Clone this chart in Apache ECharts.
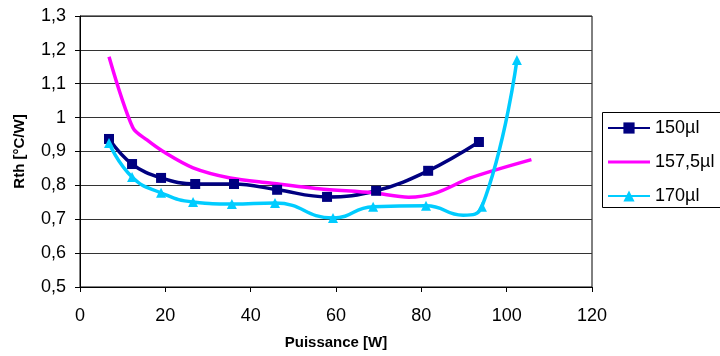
<!DOCTYPE html>
<html>
<head>
<meta charset="utf-8">
<script src="https://cdn.jsdelivr.net/npm/echarts@6/dist/echarts.min.js"></script>
<style>
html, body { margin: 0; padding: 0; background: #fff; }
#chart { width: 720px; height: 356px; }
</style>
</head>
<body>
<div id="chart"></div>
<script>
// points: [Puissance W, Rth °C/W]
var serie150 = [
	[6.8, 0.937], [12.2, 0.863], [19, 0.822], [27, 0.804], [36.1, 0.804],
	[46.2, 0.787], [57.9, 0.766], [69.4, 0.784], [81.6, 0.843], [93.5, 0.928]
];
var serie157 = [
	[6.8, 1.18], [12.4, 0.97], [15.7, 0.934], [19.5, 0.9], [26.5, 0.852],
	[35.2, 0.822], [44.5, 0.807], [56, 0.79], [68.7, 0.778], [77, 0.765],
	[83.5, 0.778], [91.5, 0.822], [105.8, 0.876]
];
var serie170 = [
	[6.8, 0.925], [12.2, 0.825], [19, 0.778], [26.5, 0.751], [35.6, 0.745],
	[45.7, 0.748], [59.3, 0.704], [68.7, 0.737], [81.1, 0.74], [94.2, 0.737],
	[102.4, 1.17]
];
// dip of the 170µl curve before its last rise (no marker there in the picture)
var dip170 = [89.8, 0.712];
var seriesNames = ['150µl', '157,5µl', '170µl'];
var seriesColors = ['#000080', '#ff00ff', '#00ccff'];

var font = 'Liberation Sans, Arial, sans-serif';

var data170 = serie170.slice(0, 9)
	.concat([{ value: dip170, symbol: 'none' }])
	.concat(serie170.slice(9));

var option = {
	animation: false,
	textStyle: { fontFamily: font, color: '#000' },
	grid: {
		left: 80, top: 16, width: 512, height: 271,
		show: true, borderColor: '#000', borderWidth: 1
	},
	graphic: [{
		type: 'rect',
		shape: { x: 602.5, y: 112.5, width: 140, height: 95 },
		style: { fill: 'none', stroke: '#000', lineWidth: 1 }
	}],
	legend: {
		orient: 'vertical',
		left: 602, top: 112,
		padding: [7, 6, 6, 5],
		itemGap: 16,
		itemWidth: 42, itemHeight: 14,
		textStyle: { fontFamily: font, fontSize: 18, color: '#000' },
		data: [
			{ name: seriesNames[0] },
			{ name: seriesNames[1], icon: 'path://M0,5.5 L42,5.5 L42,8.5 L0,8.5 Z' },
			{ name: seriesNames[2] }
		]
	},
	xAxis: {
		type: 'value',
		min: 0, max: 120, interval: 20,
		name: 'Puissance [W]',
		nameLocation: 'middle', nameGap: 48,
		nameTextStyle: { fontFamily: font, fontWeight: 'bold', fontSize: 15, color: '#000' },
		axisLine: { lineStyle: { color: '#000' } },
		axisTick: { show: true, length: 5, lineStyle: { color: '#000' } },
		axisLabel: { fontSize: 18, color: '#000', margin: 20 },
		splitLine: { show: false }
	},
	yAxis: {
		type: 'value',
		min: 0.5, max: 1.3, interval: 0.1,
		name: 'Rth [°C/W]',
		nameLocation: 'middle', nameGap: 53, nameRotate: 90,
		nameTextStyle: { fontFamily: font, fontWeight: 'bold', fontSize: 15, color: '#000' },
		axisLine: { show: true, lineStyle: { color: '#000' } },
		axisTick: { show: true, length: 5, lineStyle: { color: '#000' } },
		axisLabel: {
			fontSize: 18, color: '#000', margin: 14,
			formatter: function (v) {
				return String(Math.round(v * 10) / 10).replace('.', ',');
			}
		},
		splitLine: { lineStyle: { color: '#333', width: 1 } }
	},
	series: [
		{
			name: seriesNames[0], type: 'line', data: serie150,
			smooth: 0.4, symbol: 'rect', symbolSize: 10,
			color: seriesColors[0], lineStyle: { width: 3.5 }
		},
		{
			name: seriesNames[1], type: 'line', data: serie157,
			smooth: 0.3, symbol: 'none',
			color: seriesColors[1], lineStyle: { width: 3.5 }
		},
		{
			name: seriesNames[2], type: 'line', data: data170,
			smooth: 0.5, symbol: 'triangle', symbolSize: 10,
			color: seriesColors[2], lineStyle: { width: 3.5 }
		}
	]
};

var myChart = echarts.init(document.getElementById('chart'));
myChart.setOption(option);
</script>
</body>
</html>
